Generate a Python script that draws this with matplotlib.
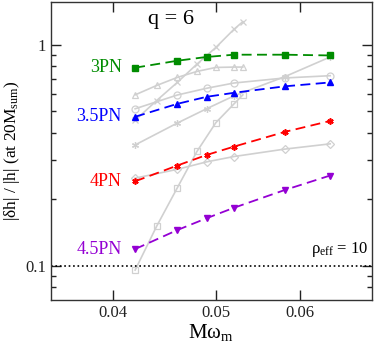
import matplotlib
matplotlib.use('Agg')
import matplotlib.pyplot as plt
from matplotlib.ticker import FixedLocator, NullFormatter, NullLocator

plt.rcParams['font.family'] = ['Liberation Serif', 'DejaVu Serif']
plt.rcParams['mathtext.fontset'] = 'custom'
plt.rcParams['mathtext.rm'] = 'Liberation Serif'
plt.rcParams['mathtext.it'] = 'Liberation Serif:italic'

# PN orders (coloured, dashed)
x_pn = [0.042, 0.046, 0.049, 0.052, 0.058, 0.064]
pn_3 = [0.787, 0.846, 0.880, 0.901, 0.901, 0.894]
pn_35 = [0.472, 0.540, 0.581, 0.606, 0.648, 0.675]
pn_4 = [0.241, 0.284, 0.317, 0.346, 0.403, 0.452]
pn_45 = [0.119, 0.145, 0.164, 0.183, 0.220, 0.256]

# grey comparison curves
x_fine = [0.042, 0.044, 0.046, 0.048, 0.050, 0.052, 0.053]
grey_tri = [0.593, 0.654, 0.711, 0.757, 0.789, 0.792, 0.792]
grey_cross = [0.455, 0.559, 0.675, 0.817, 0.972, 1.175, 1.271]
grey_sq = [0.0956, 0.151, 0.225, 0.329, 0.444, 0.540, 0.593]
grey_circ = [0.513, 0.592, 0.635, 0.671, 0.707, 0.724]
grey_star = [0.352, 0.442, 0.513, 0.587, 0.716, 0.880]
grey_dia = [0.249, 0.273, 0.295, 0.312, 0.337, 0.356]

rho_line = 0.1

fig = plt.figure(figsize=(3.74, 3.42), dpi=100)
ax = fig.add_axes([50.7 / 374, 42 / 342, 321 / 374, 298 / 342])

GREY = '#d0d0d0'
gkw = dict(color=GREY, lw=1.2, mfc='none', mec=GREY, ms=5, mew=0.9, zorder=1)
ax.plot(x_fine, grey_tri, marker='^', **gkw)
ax.plot(x_fine, grey_cross, marker='x', **gkw)
ax.plot(x_fine, grey_sq, marker='s', **gkw)
ax.plot(x_pn, grey_circ, marker='o', **gkw)
ax.plot(x_pn, grey_star, marker=(6, 2, 0), **gkw)
ax.plot(x_pn, grey_dia, marker='D', **dict(gkw, ms=4))

dkw = dict(lw=1.3, ls=(0, (5.5, 3)), ms=4.5, zorder=3)
ax.plot(x_pn, pn_3, marker='s', color='#008c00', **dkw)
ax.plot(x_pn, pn_35, marker='^', color='#0000ff', **dkw)
ax.plot(x_pn, pn_4, marker=(6, 2, 0), color='#ff0000', mew=1.2, **dkw)
ax.plot(x_pn, pn_45, marker='v', color='#9400d3', **dkw)

ax.axhline(rho_line, color='black', ls=':', lw=1.2, zorder=2)

ax.text(0.0408, pn_3[0], '3PN', color='#008c00', fontsize=13,
        ha='right', va='center')
ax.text(0.0408, pn_35[0], '3.5PN', color='#0000ff', fontsize=13,
        ha='right', va='center')
ax.text(0.0408, pn_4[0], '4PN', color='#ff0000', fontsize=13,
        ha='right', va='center')
ax.text(0.0408, pn_45[0], '4.5PN', color='#9400d3', fontsize=13,
        ha='right', va='center')
ax.text(0.0454, 1.3, 'q = 6', fontsize=16, ha='center', va='center')
ax.text(0.0695, 0.107, r'ρ$_{\rm eff}$ = 10', fontsize=12,
        ha='right', va='bottom')

ax.set_xscale('log')
ax.set_yscale('log')
ax.set_xlim(0.035, 0.070)
ax.set_ylim(0.070, 1.56)

ax.xaxis.set_major_locator(FixedLocator([0.04, 0.05, 0.06]))
ax.xaxis.set_minor_locator(NullLocator())
ax.set_xticklabels(['0.04', '0.05', '0.06'])
ax.yaxis.set_major_locator(FixedLocator([0.1, 1.0]))
ax.yaxis.set_minor_locator(FixedLocator([0.08, 0.09] + [i / 10 for i in range(2, 10)]))
ax.yaxis.set_minor_formatter(NullFormatter())
ax.set_yticklabels(['0.1', '1'])

ax.tick_params(which='both', direction='in', top=True, right=True,
               labelsize=12, colors='#222222')
ax.tick_params(which='major', length=7, width=1)
ax.tick_params(which='minor', length=3.5, width=1)
for s in ax.spines.values():
    s.set_color('#333333')
    s.set_linewidth(1)

ax.set_xlabel(r'Mω$_{\rm m}$', fontsize=15, labelpad=1)
ax.set_ylabel(r'|δh| / |h| (at 20M$_{\rm sum}$)', fontsize=12.5)
ax.yaxis.set_label_coords(-0.088, 0.5)

fig.savefig('out.png', dpi=100)
